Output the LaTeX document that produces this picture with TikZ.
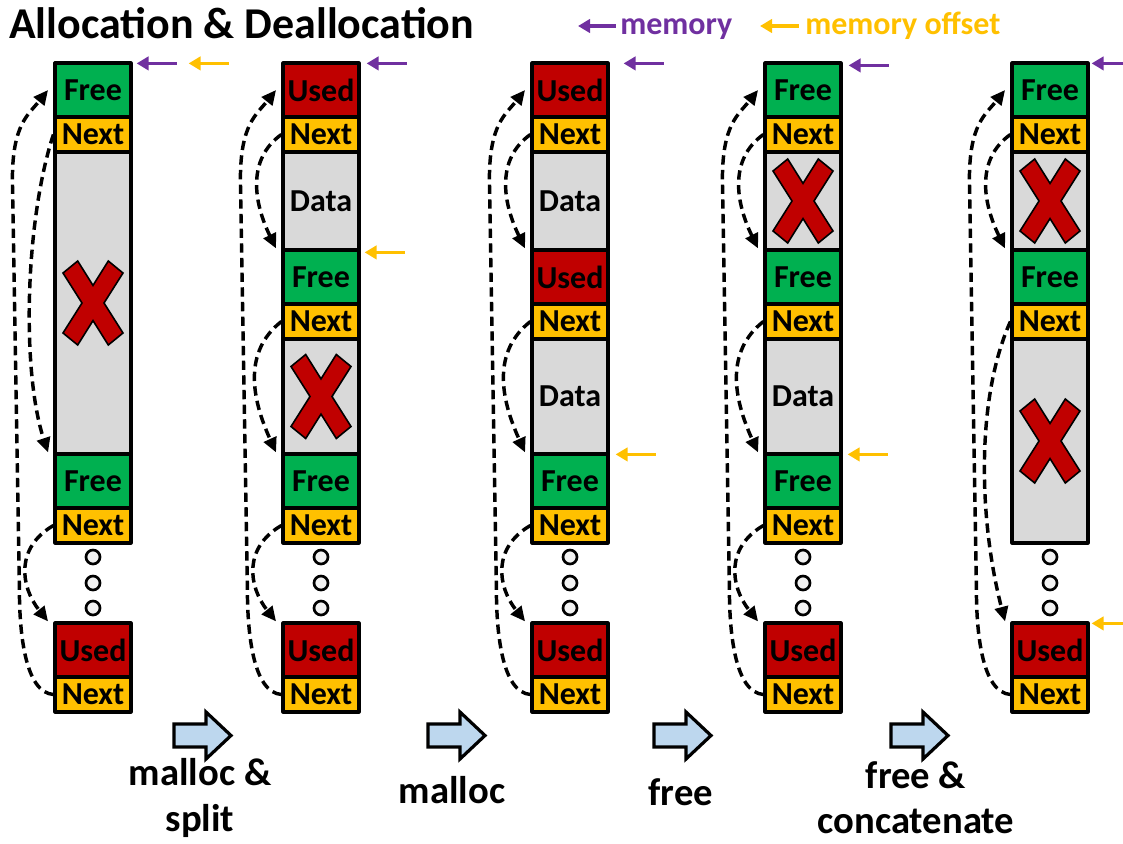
\documentclass[tikz,border=0pt]{standalone}
\usepackage{fontspec}
\setmainfont{Carlito}
\usetikzlibrary{arrows.meta}
\definecolor{freegreen}{HTML}{00B050}
\definecolor{usedred}{HTML}{C00000}
\definecolor{nextyellow}{HTML}{FFC000}
\definecolor{datagray}{HTML}{D9D9D9}
\definecolor{mempurple}{HTML}{7030A0}
\definecolor{stepblue}{HTML}{BDD7EE}
\definecolor{dotgray}{HTML}{F2F2F2}
\begin{document}
\begin{tikzpicture}[x=0.75pt,y=-0.75pt,line join=round,
	cell/.style={draw,line width=2.4pt,minimum width=57pt,inner sep=0pt,font=\bfseries\fontsize{24}{26}\selectfont},
	hdfree/.style={cell,fill=freegreen,minimum height=40.5pt},
	hdused/.style={cell,fill=usedred,minimum height=40.5pt},
	nxt/.style={cell,fill=nextyellow,minimum height=26.25pt},
	dat/.style={cell,fill=datagray,minimum height=#1*0.75pt},
	link/.style={line width=2.6pt,dash pattern=on 7pt off 4pt,-{Triangle[length=11pt,width=10pt]}},
	memptr/.style={line width=2.4pt,mempurple,{Triangle[length=9pt,width=10pt]}-},
	offptr/.style={memptr,nextyellow},
	legend/.style={font=\bfseries\fontsize{24}{28}\selectfont,inner sep=0pt},
	lbl/.style={font=\bfseries\fontsize{29}{34}\selectfont,align=center,inner sep=0pt}]
	\useasboundingbox (0,0) rectangle (1123,843);
	\tikzset{cross/.pic={
			\draw[fill=usedred,line width=1.2pt,line join=miter] (11,0) -- (30,-30) -- (15.3,-42) -- (0,-17.6) -- (-15.3,-42) -- (-30,-30) -- (-11,0) -- (-30,30) -- (-15.3,42) -- (0,17.6) -- (15.3,42) -- (30,30) -- cycle;
		},
		stepArrow/.pic={
			\draw[fill=stepblue,line width=2.4pt,line join=miter] (0,-11.5) -- (32,-11.5) -- (32,-23.5) -- (57,0) -- (32,23.5) -- (32,11.5) -- (0,11.5) -- cycle;
		},
		dots/.pic={
			\draw[fill=dotgray,line width=2pt] (0,0) circle (7) (0,26) circle (7) (0,51) circle (7);
	}}
	
	\node[font=\bfseries\fontsize{33}{38}\selectfont,inner sep=0pt,anchor=base west] (ttl) at (9,38) {Allocation \& Deallocation};
	\coordinate (lgm) at (578,26);
	\draw[memptr] (lgm) -- +(38,0);
	\node[legend,text=mempurple,anchor=base west] (lgmt) at (620,34) {memory};
	\coordinate (lgo) at (760,26);
	\draw[offptr] (lgo) -- +(39,0);
	\node[legend,text=nextyellow,anchor=base west] (lgot) at (805,34) {memory offset};
	
	% start
	\node[hdfree] (f11) at (93,90) {Free};
	\node[nxt] (n11) at (93,134.5) {Next};
	\node[dat=302] (d11) at (93,303) {};
	\node[hdfree] (f12) at (93,481) {Free};
	\node[nxt] (n12) at (93,525.5) {Next};
	\node[hdused] (u11) at (93,650) {Used};
	\node[nxt] (n13) at (93,694.5) {Next};
	
	% malloc & split
	\node[hdused] (u21) at (321,90) {Used};
	\node[nxt] (n21) at (321,134.5) {Next};
	\node[dat=98] (d21) at (321,201) {Data};
	\node[hdfree] (f22) at (321,277) {Free};
	\node[nxt] (n22) at (321,321.5) {Next};
	\node[dat=115] (d22) at (321,396.5) {};
	\node[hdfree] (f23) at (321,481) {Free};
	\node[nxt] (n23) at (321,525.5) {Next};
	\node[hdused] (u22) at (321,650) {Used};
	\node[nxt] (n24) at (321,694.5) {Next};
	
	% malloc
	\node[hdused] (u31) at (570,90) {Used};
	\node[nxt] (n31) at (570,134.5) {Next};
	\node[dat=98] (d31) at (570,201) {Data};
	\node[hdused] (u32) at (570,277) {Used};
	\node[nxt] (n32) at (570,321.5) {Next};
	\node[dat=115] (d32) at (570,396.5) {Data};
	\node[hdfree] (f33) at (570,481) {Free};
	\node[nxt] (n33) at (570,525.5) {Next};
	\node[hdused] (u34) at (570,650) {Used};
	\node[nxt] (n34) at (570,694.5) {Next};
	
	% free
	\node[hdfree] (f41) at (803,90) {Free};
	\node[nxt] (n41) at (803,134.5) {Next};
	\node[dat=98] (d41) at (803,201) {};
	\node[hdfree] (f42) at (803,277) {Free};
	\node[nxt] (n42) at (803,321.5) {Next};
	\node[dat=115] (d42) at (803,396.5) {Data};
	\node[hdfree] (f43) at (803,481) {Free};
	\node[nxt] (n43) at (803,525.5) {Next};
	\node[hdused] (u44) at (803,650) {Used};
	\node[nxt] (n44) at (803,694.5) {Next};
	
	% free & concatenate
	\node[hdfree] (f51) at (1050,90) {Free};
	\node[nxt] (n51) at (1050,134.5) {Next};
	\node[dat=98] (d51) at (1050,201) {};
	\node[hdfree] (f52) at (1050,277) {Free};
	\node[nxt] (n52) at (1050,321.5) {Next};
	\node[dat=204] (d52) at (1050,441) {};
	\node[hdused] (u53) at (1050,650) {Used};
	\node[nxt] (n53) at (1050,694.5) {Next};
	
	\path (d11) pic{cross} (d22) pic{cross} (d41) pic{cross} (d51) pic{cross} (d52) pic{cross};
	\path (93,557) pic{dots} (321,557) pic{dots} (570,557) pic{dots} (803,557) pic{dots} (1050,557) pic{dots};
	
	% free lists
	\draw[link] (n11.west) .. controls +(-28,85) and +(-27,-82) .. ([xshift=-4pt]f12.north west);
	\draw[link] (n12.west) .. controls +(-38,22) and +(-28,-35) .. ([xshift=-4pt]u11.north west);
	\draw[link] (n13.west) .. controls +(-28,-2) and +(0,45) .. ++(-34,-105) -- ++(-7,-410) .. controls +(0,-55) and +(-20,25) .. ([xshift=-4pt]f11.west);
	
	\draw[link] (n21.west) .. controls +(-35,25) and +(-22,-45) .. ([xshift=-4pt]f22.north west);
	\draw[link] (n22.west) .. controls +(-38,30) and +(-25,-55) .. ([xshift=-4pt]f23.north west);
	\draw[link] (n23.west) .. controls +(-38,22) and +(-28,-35) .. ([xshift=-4pt]u22.north west);
	\draw[link] (n24.west) .. controls +(-28,-2) and +(0,45) .. ++(-34,-105) -- ++(-7,-410) .. controls +(0,-55) and +(-20,25) .. ([xshift=-4pt]u21.west);
	
	\draw[link] (n31.west) .. controls +(-35,25) and +(-22,-45) .. ([xshift=-4pt]u32.north west);
	\draw[link] (n32.west) .. controls +(-38,30) and +(-25,-55) .. ([xshift=-4pt]f33.north west);
	\draw[link] (n33.west) .. controls +(-38,22) and +(-28,-35) .. ([xshift=-4pt]u34.north west);
	\draw[link] (n34.west) .. controls +(-28,-2) and +(0,45) .. ++(-34,-105) -- ++(-7,-410) .. controls +(0,-55) and +(-20,25) .. ([xshift=-4pt]u31.west);
	
	\draw[link] (n41.west) .. controls +(-35,25) and +(-22,-45) .. ([xshift=-4pt]f42.north west);
	\draw[link] (n42.west) .. controls +(-38,30) and +(-25,-55) .. ([xshift=-4pt]f43.north west);
	\draw[link] (n43.west) .. controls +(-38,22) and +(-28,-35) .. ([xshift=-4pt]u44.north west);
	\draw[link] (n44.west) .. controls +(-28,-2) and +(0,45) .. ++(-34,-105) -- ++(-7,-410) .. controls +(0,-55) and +(-20,25) .. ([xshift=-4pt]f41.west);
	
	\draw[link] (n51.west) .. controls +(-35,25) and +(-22,-45) .. ([xshift=-4pt]f52.north west);
	\draw[link] (n52.west) .. controls +(-35,78) and +(-26,-100) .. ([xshift=-4pt]u53.north west);
	\draw[link] (n53.west) .. controls +(-28,-2) and +(0,45) .. ++(-34,-105) -- ++(-7,-410) .. controls +(0,-55) and +(-20,25) .. ([xshift=-4pt]f51.west);
	
	% pointers
	\draw[memptr] ([shift={(4,2)}]f11.north east) -- +(40,0);
	\draw[offptr] ([shift={(56,2)}]f11.north east) -- +(40,0);
	\draw[memptr] ([shift={(6,2)}]u21.north east) -- +(40,0);
	\draw[offptr] ([shift={(4,4)}]f22.north east) -- +(40,0);
	\draw[memptr] ([shift={(14,2)}]u31.north east) -- +(40,0);
	\draw[offptr] ([shift={(6,2)}]f33.north east) -- +(40,0);
	\draw[memptr] ([shift={(6,4)}]f41.north east) -- +(40,0);
	\draw[offptr] ([shift={(5,2)}]f43.north east) -- +(40,0);
	\draw[memptr] ([shift={(2,2)}]f51.north east) -- +(40,0);
	\draw[offptr] ([shift={(2,2)}]u53.north east) -- +(40,0);
	
	% steps
	\path (174,735.5) pic{stepArrow} (428,735.5) pic{stepArrow} (654,735.5) pic{stepArrow} (891,735.5) pic{stepArrow};
	\node[lbl] (op1) at (200,798) {malloc \&\\split};
	\node[lbl,anchor=base] (op2) at (452,803) {malloc};
	\node[lbl,anchor=base] (op3) at (681,805) {free};
	\node[lbl] (op4) at (916,798) {free \&\\concatenate};
\end{tikzpicture}
\end{document}
